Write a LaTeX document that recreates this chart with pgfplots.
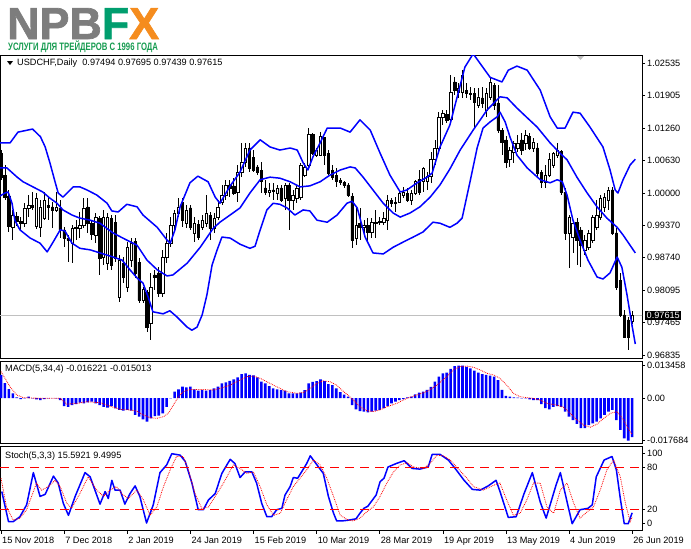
\documentclass[border=0pt]{standalone}
\usepackage{fontspec}
\setmainfont{Liberation Sans}
\newfontfamily\logofont[FakeBold=1.5]{Liberation Sans Bold}
\usepackage{graphicx}
\usepackage{pgfplots}
\usepackage{pgfplotstable}
\pgfplotsset{compat=1.18}

\definecolor{logogray}{RGB}{125,125,125}
\definecolor{logogreen}{RGB}{0,158,110}
\definecolor{subgreen}{RGB}{22,155,80}
\definecolor{logoorange}{RGB}{245,140,30}
\definecolor{mtblue}{RGB}{0,0,255}
\definecolor{mtred}{RGB}{255,0,0}
\definecolor{priceline}{RGB}{192,192,192}

\newcommand{\lbl}{\fontsize{9.2}{11}\selectfont}

% daily candles: bar index, open, high, low, close
\pgfplotstableread{
i o h l c
0 1.0078 1.0084 1.0026 1.0031
1 1.0035 1.0055 0.9986 0.9992
2 0.9994 1.0006 0.9924 0.9935
3 0.9933 0.9967 0.9908 0.9957
4 0.9955 0.9963 0.9935 0.9945
5 0.9945 0.9953 0.9928 0.9941
6 0.9941 0.9980 0.9933 0.9971
7 0.9971 0.9996 0.9953 0.9976
8 0.9976 1.0002 0.9967 0.9972
9 0.9935 1.0000 0.9929 0.9990
10 0.9933 0.9986 0.9914 0.9973
11 0.9951 1.0002 0.9947 0.9986
12 0.9976 0.9992 0.9947 0.9973
13 0.9973 0.9982 0.9931 0.9967
14 0.9967 1.0002 0.9963 0.9973
15 0.9971 0.9986 0.9912 0.9928
16 0.9928 0.9934 0.9895 0.9912
17 0.9912 0.9918 0.9865 0.9908
18 0.9902 0.9937 0.9863 0.9931
19 0.9931 0.9947 0.9908 0.9933
20 0.9931 0.9963 0.9912 0.9937
21 0.9937 0.9990 0.9931 0.9971
22 0.9973 0.9990 0.9922 0.9941
23 0.9941 0.9947 0.9908 0.9920
24 0.9918 0.9961 0.9902 0.9953
25 0.9951 0.9955 0.9840 0.9873
26 0.9875 0.9967 0.9859 0.9953
27 0.9863 0.9961 0.9850 0.9953
28 0.9951 0.9957 0.9850 0.9859
29 0.9943 0.9957 0.9865 0.9873
30 0.9797 0.9879 0.9787 0.9869
31 0.9863 0.9875 0.9824 0.9836
32 0.9816 0.9904 0.9807 0.9894
33 0.9869 0.9912 0.9855 0.9902
34 0.9906 0.9912 0.9834 0.9844
35 0.9865 0.9873 0.9785 0.9791
36 0.9791 0.9816 0.9785 0.9811
37 0.9807 0.9811 0.9728 0.9738
38 0.9746 0.9844 0.9713 0.9816
39 0.9840 0.9850 0.9811 0.9836
40 0.9844 0.9856 0.9797 0.9805
41 0.9805 0.9889 0.9797 0.9875
42 0.9875 0.9922 0.9863 0.9902
43 0.9902 0.9953 0.9894 0.9937
44 0.9937 0.9967 0.9928 0.9961
45 0.9961 0.9990 0.9953 0.9973
46 0.9982 0.9990 0.9933 0.9947
47 0.9941 0.9976 0.9931 0.9967
48 0.9971 0.9976 0.9928 0.9933
49 0.9922 0.9953 0.9904 0.9941
50 0.9939 0.9947 0.9908 0.9914
51 0.9933 0.9957 0.9928 0.9947
52 0.9941 0.9996 0.9933 0.9961
53 0.9957 0.9963 0.9908 0.9931
54 0.9931 0.9961 0.9922 0.9951
55 0.9953 0.9986 0.9947 0.9973
56 0.9982 1.0016 0.9976 0.9996
57 0.9996 1.0026 0.9986 1.0016
58 1.0016 1.0026 0.9992 1.0010
59 1.0014 1.0030 0.9996 1.0000
60 1.0002 1.0055 0.9982 1.0041
61 1.0041 1.0098 1.0031 1.0061
62 1.0061 1.0098 1.0051 1.0088
63 1.0088 1.0098 1.0041 1.0049
64 1.0069 1.0084 1.0041 1.0045
65 1.0051 1.0055 1.0035 1.0041
66 1.0045 1.0061 1.0000 1.0022
67 1.0010 1.0026 0.9996 1.0002
68 1.0002 1.0020 0.9992 1.0006
69 1.0006 1.0020 0.9986 1.0004
70 1.0000 1.0016 0.9986 1.0010
71 1.0010 1.0016 0.9982 0.9986
72 0.9990 1.0020 0.9967 1.0016
73 1.0016 1.0020 0.9928 0.9986
74 0.9986 1.0006 0.9967 0.9996
75 0.9990 1.0016 0.9980 1.0010
76 0.9992 1.0059 0.9986 1.0055
77 1.0035 1.0059 1.0031 1.0051
78 1.0055 1.0127 1.0051 1.0114
79 1.0114 1.0118 1.0074 1.0078
80 1.0074 1.0088 1.0071 1.0084
81 1.0074 1.0120 1.0072 1.0110
82 1.0108 1.0110 1.0055 1.0074
83 1.0078 1.0084 1.0035 1.0039
84 1.0045 1.0055 1.0026 1.0031
85 1.0035 1.0049 1.0012 1.0022
86 1.0024 1.0030 1.0016 1.0020
87 1.0020 1.0024 1.0010 1.0016
88 1.0016 1.0020 0.9992 0.9996
89 0.9994 1.0000 0.9893 0.9908
90 0.9912 0.9971 0.9898 0.9937
91 0.9941 0.9971 0.9908 0.9933
92 0.9933 0.9947 0.9922 0.9937
93 0.9937 0.9951 0.9904 0.9924
94 0.9924 0.9951 0.9912 0.9943
95 0.9941 0.9967 0.9912 0.9943
96 0.9943 0.9953 0.9937 0.9945
97 0.9943 0.9963 0.9937 0.9951
98 0.9947 0.9996 0.9928 0.9986
99 0.9986 0.9990 0.9973 0.9980
100 0.9980 0.9992 0.9963 0.9982
101 0.9982 1.0006 0.9980 1.0000
102 0.9996 1.0012 0.9990 1.0002
103 1.0000 1.0010 0.9982 0.9986
104 0.9986 1.0006 0.9976 1.0000
105 1.0000 1.0026 0.9996 1.0022
106 1.0026 1.0045 0.9996 1.0002
107 1.0022 1.0051 1.0002 1.0049
108 1.0022 1.0041 1.0006 1.0033
109 1.0033 1.0080 1.0020 1.0065
110 1.0065 1.0104 1.0055 1.0088
111 1.0088 1.0158 1.0080 1.0147
112 1.0147 1.0162 1.0133 1.0156
113 1.0154 1.0162 1.0137 1.0143
114 1.0145 1.0230 1.0141 1.0197
115 1.0217 1.0227 1.0191 1.0201
116 1.0197 1.0215 1.0186 1.0205
117 1.0197 1.0240 1.0186 1.0230
118 1.0201 1.0215 1.0186 1.0195
119 1.0195 1.0207 1.0182 1.0193
120 1.0195 1.0205 1.0127 1.0178
121 1.0172 1.0205 1.0166 1.0188
122 1.0186 1.0207 1.0166 1.0176
123 1.0162 1.0205 1.0148 1.0195
124 1.0188 1.0225 1.0182 1.0217
125 1.0211 1.0215 1.0162 1.0172
126 1.0176 1.0211 1.0117 1.0123
127 1.0123 1.0127 1.0074 1.0100
128 1.0104 1.0111 1.0049 1.0061
129 1.0065 1.0090 1.0051 1.0084
130 1.0080 1.0102 1.0059 1.0098
131 1.0088 1.0113 1.0080 1.0098
132 1.0104 1.0117 1.0074 1.0084
133 1.0098 1.0123 1.0084 1.0113
134 1.0110 1.0117 1.0084 1.0088
135 1.0088 1.0108 1.0080 1.0100
136 1.0088 1.0098 1.0031 1.0039
137 1.0041 1.0045 1.0010 1.0020
138 1.0020 1.0055 1.0010 1.0035
139 1.0035 1.0078 1.0031 1.0065
140 1.0055 1.0080 1.0049 1.0078
141 1.0074 1.0098 1.0068 1.0084
142 1.0082 1.0084 0.9996 1.0002
143 1.0002 1.0010 0.9908 0.9922
144 0.9922 0.9957 0.9853 0.9953
145 0.9914 0.9947 0.9883 0.9941
146 0.9943 0.9951 0.9859 0.9908
147 0.9928 0.9933 0.9855 0.9898
148 0.9889 0.9918 0.9879 0.9908
149 0.9894 0.9928 0.9889 0.9922
150 0.9908 0.9957 0.9902 0.9953
151 0.9933 0.9986 0.9928 0.9957
152 0.9953 0.9996 0.9947 0.9990
153 0.9973 1.0000 0.9963 0.9992
154 0.9986 1.0012 0.9967 1.0006
155 1.0006 1.0012 0.9918 0.9922
156 0.9922 0.9931 0.9811 0.9816
157 0.9830 0.9844 0.9758 0.9762
158 0.9762 0.9772 0.9717 0.9719
159 0.9752 0.9758 0.9693 0.9719
160 0.97494 0.97695 0.97439 0.97615
}\candles

% MACD histogram
\pgfplotstableread{
i v
0 0.0096
1 0.0062
2 0.0037
3 0.0020
4 0.0003
5 -0.0004
6 -0.0001
7 0.0006
8 -0.0001
9 -0.0005
10 -0.0008
11 -0.0004
12 -0.0001
13 0.0000
14 -0.0001
15 -0.0008
16 -0.0033
17 -0.0036
18 -0.0029
19 -0.0025
20 -0.0019
21 -0.0022
22 -0.0018
23 -0.0015
24 -0.0022
25 -0.0029
26 -0.0036
27 -0.0039
28 -0.0033
29 -0.0043
30 -0.0049
31 -0.0052
32 -0.0049
33 -0.0052
34 -0.0070
35 -0.0077
36 -0.0088
37 -0.0098
38 -0.0084
39 -0.0075
40 -0.0073
41 -0.0063
42 -0.0036
43 -0.0001
44 0.0027
45 0.0036
46 0.0048
47 0.0045
48 0.0048
49 0.0036
50 0.0031
51 0.0033
52 0.0031
53 0.0033
54 0.0040
55 0.0048
56 0.0061
57 0.0065
58 0.0072
59 0.0078
60 0.0086
61 0.0100
62 0.0103
63 0.0097
64 0.0094
65 0.0086
66 0.0068
67 0.0061
68 0.0050
69 0.0040
70 0.0036
71 0.0033
72 0.0031
73 0.0020
74 0.0020
75 0.0020
76 0.0023
77 0.0033
78 0.0061
79 0.0067
80 0.0071
81 0.0078
82 0.0071
83 0.0058
84 0.0054
85 0.0040
86 0.0025
87 0.0015
88 0.0006
89 -0.0029
90 -0.0047
91 -0.0054
92 -0.0056
93 -0.0059
94 -0.0056
95 -0.0052
96 -0.0049
97 -0.0042
98 -0.0033
99 -0.0022
100 -0.0015
101 -0.0008
102 -0.0004
103 0.0003
104 0.0006
105 0.0016
106 0.0023
107 0.0027
108 0.0034
109 0.0047
110 0.0068
111 0.0089
112 0.0103
113 0.0106
114 0.0121
115 0.0133
116 0.0135
117 0.0135
118 0.0130
119 0.0124
120 0.0114
121 0.0106
122 0.0100
123 0.0096
124 0.0093
125 0.0089
126 0.0075
127 0.0034
128 0.0009
129 0.0006
130 0.0003
131 0.0002
132 -0.0001
133 -0.0001
134 -0.0005
135 -0.0008
136 -0.0008
137 -0.0025
138 -0.0042
139 -0.0047
140 -0.0036
141 -0.0033
142 -0.0036
143 -0.0056
144 -0.0077
145 -0.0091
146 -0.0107
147 -0.0125
148 -0.0125
149 -0.0112
150 -0.0105
151 -0.0098
152 -0.0084
153 -0.0070
154 -0.0056
155 -0.0049
156 -0.0091
157 -0.0132
158 -0.0167
159 -0.0177
160 -0.0162
}\macdhist

% stochastic signal levels
\pgfplotstableread{
x lo hi
-0.25 20 80
162.5 20 80
}\levels

\pgfplotsset{
  panel/.style={scale only axis, width=642bp, xmin=-0.254, xmax=162.5,
    enlargelimits=false, scaled y ticks=false, scaled x ticks=false,
    axis line style={black, line width=0.8bp},
    tick align=outside, major tick length=3bp,
    tick style={black, line width=0.6bp},
    ytick pos=right, yticklabel pos=right, xtick=\empty,
    ticklabel style={font=\lbl, text=black},
    yticklabel style={inner xsep=2bp}},
  mainbox/.style={at={(0bp,-55.5bp)}, anchor=north west, height=302.5bp,
    ymin=0.96777, ymax=1.02687},
}

\begin{document}
\begin{tikzpicture}
\path[use as bounding box] (0bp,0bp) rectangle (691bp,-549bp);

% price panel: frame, scale, wicks
\begin{axis}[panel, mainbox,
  ytick={0.96835,0.97465,0.98095,0.98740,0.99370,1.00000,1.00630,1.01260,1.01905,1.02535},
  yticklabels={0.96835,0.97465,0.98095,0.98740,0.99370,1.00000,1.00630,1.01260,1.01905,1.02535}]
\addplot[priceline, line width=0.8bp] coordinates {(-1,0.97615) (163,0.97615)};
\addplot[draw=none, mark=none, error bars/.cd, y dir=both, y explicit, error mark=none,
  error bar style={draw=black, solid, line width=0.8bp}]
  table[x=i, y expr={(\thisrow{h}+\thisrow{l})/2}, y error expr={(\thisrow{h}-\thisrow{l})/2}] {\candles};
\end{axis}

% candle bodies
\begin{axis}[panel, mainbox, hide axis, ybar stacked, bar width=2.4bp]
\addplot[draw=none, fill=none] table[x=i, y expr={min(\thisrow{o},\thisrow{c})}] {\candles};
\addplot[draw=black, fill=white, line width=0.6bp] table[x=i, y expr={max(\thisrow{c}-\thisrow{o},0)}] {\candles};
\addplot[draw=black, fill=black, line width=0.6bp] table[x=i, y expr={max(\thisrow{o}-\thisrow{c},0)}] {\candles};
\end{axis}

% Bollinger bands
\begin{axis}[panel, mainbox, hide axis]
\addplot[mtblue, line width=1.5bp, line join=round] coordinates {
(-0.3,1.0098) (2.3,1.0098) (4.3,1.0119) (8,1.0125) (10,1.0110) (11.2,1.0090) (12.4,1.0059)
(13.7,1.0022) (14.5,1.0000) (15.7,0.9992) (18.3,1.0012) (20,1.0012) (21.8,1.0006) (24.3,0.9996)
(26.9,0.9980) (28.1,0.9965) (29.7,0.9963) (31.9,0.9978) (34.5,0.9973) (36,0.9957) (39.6,0.9933)
(42.1,0.9908) (42.9,0.9902) (44.1,0.9928) (45.4,0.9973) (47.9,1.0020) (49.9,1.0033) (52.5,1.0022)
(54.3,0.9992) (55.5,0.9980) (58.1,1.0014) (60.6,1.0041) (63.1,1.0084) (65.7,1.0104) (68.2,1.0090)
(70.7,1.0084) (73.3,1.0088) (75.1,1.0084) (76.6,1.0059) (77.8,1.0045) (79.1,1.0071) (80.9,1.0098)
(82.7,1.0127) (86,1.0127) (88.5,1.0119) (91,1.0143) (93.6,1.0123) (96.1,1.0078) (98.6,1.0035)
(101.2,1.0002) (102.9,1.0006) (105.5,1.0020) (108,1.0031) (109.3,1.0039) (111.3,1.0090)
(113.8,1.0133) (117.6,1.0246) (119.7,1.0272) (124,1.0226) (127,1.0217) (128.6,1.0240)
(130.8,1.0248) (133.4,1.0240) (136.7,1.0201) (139.2,1.0149) (141,1.0127) (143,1.0127)
(145,1.0158) (146.8,1.0156) (149.3,1.0129) (152.6,1.0090) (154.4,1.0045) (155.7,1.0006)
(156.4,1.0000) (157.7,1.0026) (159.5,1.0055) (160.8,1.0066)};
\addplot[mtblue, line width=1.5bp, line join=round] coordinates {
(-0.3,1.0049) (1.5,1.0049) (4.1,1.0031) (5.6,1.0022) (8.1,1.0012) (10.6,1.0002) (12.4,0.9990)
(14.2,0.9980) (15.7,0.9967) (18,0.9957) (20,0.9951) (22.6,0.9947) (25.1,0.9941) (28.4,0.9922)
(31.9,0.9908) (34.5,0.9898) (37,0.9869) (39.6,0.9850) (42.1,0.9838) (43.6,0.9840) (47.2,0.9863)
(50.5,0.9894) (53.8,0.9931) (55.5,0.9943) (58.8,0.9961) (60.6,0.9971) (63.1,1.0000) (65.7,1.0026)
(68.2,1.0031) (70.7,1.0029) (73.3,1.0022) (75.8,1.0012) (78.3,1.0014) (80.9,1.0022) (83.4,1.0035)
(86,1.0045) (88.5,1.0051) (89.8,1.0049) (91.8,1.0031) (94.3,1.0006) (96.9,0.9980) (99.4,0.9961)
(101.2,0.9953) (103.7,0.9961) (106.2,0.9973) (108.8,0.9992) (111.3,1.0016) (113.8,1.0047)
(116.4,1.0084) (119.7,1.0123) (123.2,1.0162) (126.5,1.0188) (128.3,1.0186) (130.8,1.0166)
(133.4,1.0147) (135.9,1.0129) (139.2,1.0098) (141.7,1.0078) (143.5,1.0065) (146,1.0031)
(148.6,1.0000) (151.1,0.9973) (153.6,0.9951) (156.2,0.9933) (157.7,0.9918) (160.8,0.9883)};
\addplot[mtblue, line width=1.5bp, line join=round] coordinates {
(-0.3,0.9994) (1,1.0000) (1.8,1.0002) (2.8,0.9980) (3.5,0.9947) (4.8,0.9928) (7.4,0.9912)
(9.9,0.9902) (11.7,0.9885) (13.2,0.9904) (15,0.9928) (16.2,0.9926) (18,0.9902) (20,0.9892)
(22.6,0.9889) (25.1,0.9883) (27.6,0.9877) (30.7,0.9869) (32.7,0.9850) (34.5,0.9834) (36,0.9824)
(37.3,0.9797) (38.5,0.9768) (41.1,0.9764) (42.8,0.9770) (44.6,0.9758) (47.2,0.9738) (48.4,0.9732)
(49.7,0.9738) (51,0.9762) (52.2,0.9801) (53.5,0.9859) (54.8,0.9889) (56,0.9914) (58.1,0.9912)
(60.6,0.9900) (63.1,0.9892) (64.4,0.9896) (65.7,0.9928) (67.4,0.9967) (69,0.9980) (70.7,0.9978)
(72.5,0.9971) (74.5,0.9957) (76.6,0.9967) (78.3,0.9965) (80.1,0.9947) (82.7,0.9943) (85.2,0.9957)
(87.7,0.9980) (89,0.9984) (90.3,0.9971) (92.3,0.9914) (94.3,0.9883) (96.9,0.9881) (99.4,0.9894)
(101.9,0.9904) (104.5,0.9914) (107,0.9924) (109.5,0.9943) (111.3,0.9941) (113.8,0.9933)
(115.6,0.9941) (116.9,0.9951) (117.6,0.9976) (118.9,1.0022) (120.7,1.0088) (122.2,1.0127)
(124,1.0139) (125.8,1.0149) (126.5,1.0158) (127.8,1.0139) (129.1,1.0108) (130.8,1.0074)
(133.4,1.0049) (136.7,1.0026) (139.2,1.0020) (141,1.0026) (142.3,1.0022) (143.5,0.9996)
(145,0.9947) (146.8,0.9908) (148.8,0.9869) (151.1,0.9836) (152.6,0.9832) (154.4,0.9844)
(156.2,0.9875) (157.4,0.9855) (158.7,0.9801) (160,0.9740) (160.8,0.9705)};
\end{axis}

% MACD panel
\begin{axis}[panel, at={(0bp,-361bp)}, anchor=north west, height=82bp,
  ymin=-0.01864, ymax=0.01541,
  ytick={-0.017684,0,0.013458}, yticklabels={-0.017684,0.00,0.013458}]
\addplot[ybar, bar width=2.6bp, fill=mtblue, draw=none] table[x=i, y=v] {\macdhist};
\addplot[mtred, line width=0.8bp, densely dotted] coordinates {
(0,0.0110) (2.3,0.0047) (4,0.0013) (5.7,0.0002) (8.2,0.0000) (15,-0.0001) (16.7,-0.0025)
(19.2,-0.0022) (21.7,-0.0015) (25.1,-0.0019) (27.6,-0.0033) (30.2,-0.0047) (32.7,-0.0049)
(34.4,-0.0054) (36.1,-0.0070) (37.8,-0.0081) (39.5,-0.0084) (41.2,-0.0077) (42.4,-0.0063)
(43.7,-0.0029) (45,0.0006) (46.2,0.0027) (47.9,0.0036) (50.5,0.0036) (53.8,0.0034) (55.5,0.0040)
(58.1,0.0054) (60.6,0.0075) (62.3,0.0089) (64,0.0092) (65.7,0.0082) (67.4,0.0068) (69.9,0.0047)
(72.4,0.0027) (75,0.0020) (76.7,0.0023) (78.4,0.0040) (80.1,0.0061) (81.7,0.0072) (83.4,0.0068)
(85.1,0.0054) (86.5,0.0032) (87.7,0.0016) (89.3,-0.0008) (91,-0.0036) (92.7,-0.0052)
(94.4,-0.0056) (96.1,-0.0049) (97.8,-0.0036) (100.3,-0.0022) (102.9,-0.0001) (105.4,0.0013)
(107.9,0.0027) (110.5,0.0054) (113,0.0089) (114.7,0.0117) (116.4,0.0131) (118.1,0.0133)
(119.8,0.0128) (121.5,0.0117) (123.2,0.0103) (124.9,0.0096) (126.5,0.0082) (128.2,0.0054)
(129.9,0.0020) (131.6,0.0006) (133.3,0.0002) (135,-0.0001) (136.7,-0.0008) (138.4,-0.0022)
(140.9,-0.0029) (142.6,-0.0038) (144.3,-0.0063) (146,-0.0091) (147.7,-0.0112) (149.4,-0.0121)
(151.1,-0.0108) (152.8,-0.0084) (154.5,-0.0063) (156.2,-0.0056) (157.8,-0.0091) (159.5,-0.0140)
(160,-0.0150)};
\end{axis}

% Stochastic panel
\begin{axis}[panel, at={(0bp,-446.5bp)}, anchor=north west, height=84bp,
  ymin=-9.7, ymax=110.3,
  ytick={0,20,80,100}, yticklabels={0,20,80,100},
  xtick={0,16,...,160}, xtick pos=left,
  xticklabels={15 Nov 2018,7 Dec 2018,2 Jan 2019,24 Jan 2019,15 Feb 2019,10 Mar 2019,28 Mar 2019,19 Apr 2019,13 May 2019,4 Jun 2019,26 Jun 2019},
  xticklabel style={anchor=north west, inner xsep=1bp}]
\addplot[mtblue, line width=1.5bp, line join=round] coordinates {
(0.2,46) (1.9,3) (3.1,3) (4.8,10) (6.5,27) (8.2,73) (9.9,39) (11.2,42) (13.3,68) (14.5,58)
(15.8,29) (17.1,12) (18.8,39) (21.3,73) (22.6,67) (25.1,28) (26.4,46) (27.2,36) (28.1,62)
(28.9,48) (30.2,48) (31.4,28) (32.7,43) (34,54) (35.2,39) (36.9,1) (38.6,27) (40.3,73) (42,84)
(43.3,100) (45.4,98) (46.7,89) (48.4,58) (50,20) (51.3,20) (52.6,34) (54.3,43) (56,72) (58.1,92)
(59.3,86) (60.6,66) (61.9,74) (63.6,74) (64.8,58) (66.1,29) (67.4,10) (68.6,10) (69.9,20)
(71.2,22) (72,41) (73.3,53) (74.1,66) (75.2,65) (76.2,74) (77.5,86) (78.4,97) (80.1,84) (81.7,72)
(83,39) (84.3,15) (85.1,4) (86.5,4) (88,5) (90,7) (91,15) (92,22) (93,25) (95.1,41) (96.1,60)
(97.1,65) (98.1,81) (100.2,86) (102.2,90) (104.2,79) (106.2,78) (108.3,81) (109.3,99) (111.3,99)
(113.4,91) (115.4,77) (117.4,62) (119.5,49) (121.5,48) (123.5,54) (125.5,62) (126.5,46)
(128.6,9) (130.6,10) (132.6,43) (134.7,73) (136.7,31) (138.2,8) (140.7,55) (141.8,73) (143.8,24)
(144.8,0) (146.8,20) (148.8,22) (149.9,27) (150.9,67) (152.9,91) (154.9,96) (156,77) (157,36)
(158,0) (159,0) (160,15.6)};
\addplot[mtred, line width=0.8bp, densely dotted] coordinates {
(0,65) (1.4,24) (3.1,5) (4.8,8) (6.5,20) (9,58) (10.3,48) (12,53) (13.7,62) (15,53) (16.7,29)
(17.9,22) (20,43) (22.1,67) (24.3,48) (26,39) (27.6,48) (29.3,53) (30.6,43) (32.3,36) (34.4,48)
(36.1,34) (37.8,12) (39.5,24) (41.2,53) (42.9,77) (44.5,96) (46.2,96) (47.5,77) (49.2,43)
(50.9,22) (52.6,24) (54.3,39) (56.4,58) (58.9,84) (60.6,79) (62.3,72) (64,74) (65.7,53) (67.4,27)
(69.1,12) (70.8,15) (72.4,34) (74.1,53) (75.8,65) (77.5,77) (79.2,91) (80.9,84) (82.6,65)
(84.3,39) (86,12) (88.1,5) (89.3,4) (91,8) (92.7,17) (94.4,24) (96.1,39) (97.8,58) (99.5,74)
(101.2,84) (102.9,87) (104.6,81) (107.1,79) (108.8,86) (110.5,98) (112.2,97) (113.9,91)
(115.5,81) (118.1,65) (119.8,53) (122.3,48) (124.9,55) (126.5,58) (128.2,34) (129.9,12)
(131.6,15) (133.3,34) (135,58) (136.7,58) (138.4,24) (140.1,15) (141.8,48) (143.5,58) (145.2,29)
(146.8,8) (148.6,17) (150.2,24) (151.9,48) (153.6,77) (155.3,91) (157,67) (158.3,29) (159.5,3)
(160,9.5)};
\addplot[mtred, line width=1.2bp, dash pattern=on 9bp off 6bp] table[x=x, y=hi] {\levels};
\addplot[mtred, line width=1.2bp, dash pattern=on 9bp off 6bp] table[x=x, y=lo] {\levels};
\end{axis}

% logo
\node[anchor=base west, inner sep=0, text depth=0pt, text=logogray, font=\logofont\fontsize{45}{45}\selectfont]
  at (7bp,-39bp) {NPB\textcolor{logogreen}{F}\textcolor{logoorange}{X}};
\node[anchor=base west, inner sep=0, text height=7.8bp, text=subgreen, font=\bfseries\fontsize{10.8}{11}\selectfont]
  at (8bp,-50.5bp) {\scalebox{0.72}[1]{УСЛУГИ ДЛЯ ТРЕЙДЕРОВ С 1996 ГОДА}};

% panel captions
\fill (7bp,-61bp) -- (13bp,-61bp) -- (10bp,-65bp) -- cycle;
\node[anchor=west, inner sep=0, font=\lbl] at (17bp,-63.5bp)
  {USDCHF,Daily\ \ 0.97494 0.97695 0.97439 0.97615};
\node[anchor=west, inner sep=0, font=\lbl] at (5bp,-369.5bp) {MACD(5,34,4) -0.016221 -0.015013};
\node[anchor=west, inner sep=0, font=\lbl] at (5bp,-456bp) {Stoch(5,3,3) 15.5921 9.4995};
\fill[black!25] (577bp,-56bp) -- (584bp,-56bp) -- (580.5bp,-60bp) -- cycle;

% last price marker
\node[fill=black, text=white, font=\lbl, inner xsep=1.5bp, inner ysep=1.2bp, anchor=west]
  at (645bp,-315.5bp) {0.97615};
\end{tikzpicture}
\end{document}
